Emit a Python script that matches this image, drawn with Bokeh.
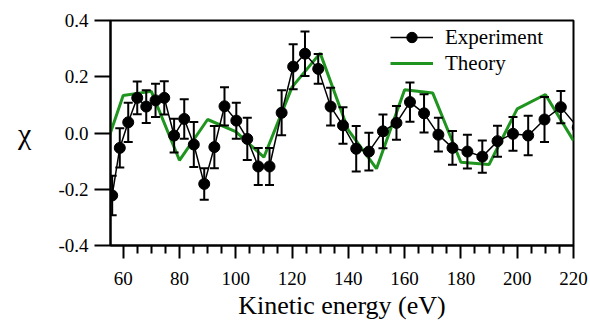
from bokeh.plotting import figure
from bokeh.models import (ColumnDataSource, FixedTicker, NumeralTickFormatter,
                          Legend, LegendItem, Range1d)
from bokeh.embed import file_html
from bokeh.resources import INLINE

# Measured EXAFS-like oscillation chi(E) with error bars
exp_energy = [56.1, 58.8, 61.8, 65.0, 68.2, 71.5, 74.6, 78.1, 81.7, 85.1,
              88.8, 92.4, 96.0, 100.2, 104.1, 108.0, 112.0, 116.3, 120.4, 124.6,
              129.3, 133.7, 138.1, 142.8, 147.3, 152.3, 157.1, 161.9, 166.9, 172.0,
              177.0, 182.3, 187.6, 193.0, 198.5, 203.9, 209.7, 215.5, 221.5]
exp_chi = [-0.222, -0.053, 0.038, 0.125, 0.094, 0.116, 0.125, -0.009, 0.050, -0.041,
           -0.181, -0.050, 0.095, 0.044, -0.021, -0.119, -0.119, 0.072, 0.236, 0.282,
           0.228, 0.094, 0.027, -0.056, -0.066, 0.006, 0.036, 0.110, 0.070, -0.006,
           -0.053, -0.066, -0.084, -0.029, -0.003, -0.009, 0.048, 0.092, 0.020]
exp_err = [0.070, 0.070, 0.070, 0.058, 0.058, 0.059, 0.059, 0.060, 0.070, 0.080,
           0.056, 0.075, 0.068, 0.064, 0.075, 0.066, 0.066, 0.080, 0.080, 0.079,
           0.053, 0.067, 0.065, 0.081, 0.067, 0.060, 0.060, 0.070, 0.068, 0.060,
           0.060, 0.060, 0.057, 0.055, 0.060, 0.070, 0.080, 0.057, 0.060]

# Calculated curve on a 10 eV grid
theory_energy = [50, 60, 70, 80, 90, 100, 110, 120, 130, 140,
                 150, 160, 170, 180, 190, 200, 210, 220]
theory_chi = [-0.160, 0.133, 0.148, -0.097, 0.048, 0.005, -0.086, 0.163, 0.284, 0.010,
              -0.127, 0.154, 0.142, -0.104, -0.112, 0.086, 0.137, -0.027]

x_ticks = [60, 80, 100, 120, 140, 160, 180, 200, 220]
x_minor = [v for v in range(55, 225, 5) if v not in x_ticks]
y_ticks = [-0.4, -0.2, 0.0, 0.2, 0.4]

FONT = "Liberation Serif"
GREEN = "#1f951f"

exp_src = ColumnDataSource(dict(
    x=exp_energy, y=exp_chi,
    lo=[c - e for c, e in zip(exp_chi, exp_err)],
    hi=[c + e for c, e in zip(exp_chi, exp_err)],
))
th_src = ColumnDataSource(dict(x=theory_energy, y=theory_chi))

p = figure(frame_width=463, frame_height=225,
           output_backend="svg", toolbar_location=None,
           x_range=Range1d(55.5, 220), y_range=Range1d(-0.4, 0.4),
           min_border_left=110, min_border_right=17,
           min_border_top=20, min_border_bottom=0)
p.background_fill_color = "white"
p.border_fill_color = "white"
p.outline_line_color = "black"
p.outline_line_width = 2
p.grid.visible = False

# theory curve
th_line = p.line("x", "y", source=th_src, line_color=GREEN, line_width=3)

# experiment: error bars, connecting line, markers
p.segment(x0="x", y0="lo", x1="x", y1="hi", source=exp_src,
          line_color="black", line_width=2)
p.scatter("x", "lo", source=exp_src, marker="dash", size=9,
          line_color="black", line_width=2)
p.scatter("x", "hi", source=exp_src, marker="dash", size=9,
          line_color="black", line_width=2)
exp_line = p.line("x", "y", source=exp_src, line_color="black", line_width=1.5)
exp_pts = p.scatter("x", "y", source=exp_src, marker="circle", size=11,
                    fill_color="black", line_color="black")

# axes
xa = p.xaxis[0]
xa.ticker = FixedTicker(ticks=x_ticks, minor_ticks=x_minor)
xa.axis_label = "Kinetic energy (eV)"
ya = p.yaxis[0]
ya.ticker = FixedTicker(ticks=y_ticks, minor_ticks=[])
ya.formatter = NumeralTickFormatter(format="0.0")
ya.axis_label = "χ"
ya.axis_label_orientation = "horizontal"

for ax in (xa, ya):
    ax.axis_line_width = 2
    ax.major_tick_line_width = 2
    ax.minor_tick_line_width = 2
    ax.major_tick_in = 0
    ax.minor_tick_in = 0
    ax.major_label_text_font = FONT
    ax.major_label_text_font_style = "normal"
    ax.major_label_text_font_size = "19px"
    ax.major_label_text_color = "black"
    ax.axis_label_text_font = FONT
    ax.axis_label_text_font_style = "normal"
    ax.axis_label_text_font_size = "26px"
    ax.axis_label_text_color = "black"

ya.axis_label_text_font_size = "30px"

xa.major_tick_out = 13
xa.minor_tick_out = 8
xa.major_label_standoff = 13
xa.axis_label_standoff = 3
ya.major_tick_out = 16
ya.major_label_standoff = 6
ya.axis_label_standoff = 24

legend = Legend(items=[
    LegendItem(label="Experiment", renderers=[exp_line, exp_pts]),
    LegendItem(label="Theory", renderers=[th_line]),
], location=(280, 169))
legend.label_text_font = FONT
legend.label_text_font_style = "normal"
legend.label_text_font_size = "21px"
legend.label_text_color = "black"
legend.glyph_width = 43
legend.glyph_height = 26
legend.label_height = 26
legend.label_standoff = 12
legend.spacing = 0
legend.padding = 0
legend.margin = 0
legend.border_line_color = None
legend.background_fill_alpha = 0
p.add_layout(legend)

open("out.html", "w").write(file_html(p, INLINE))
